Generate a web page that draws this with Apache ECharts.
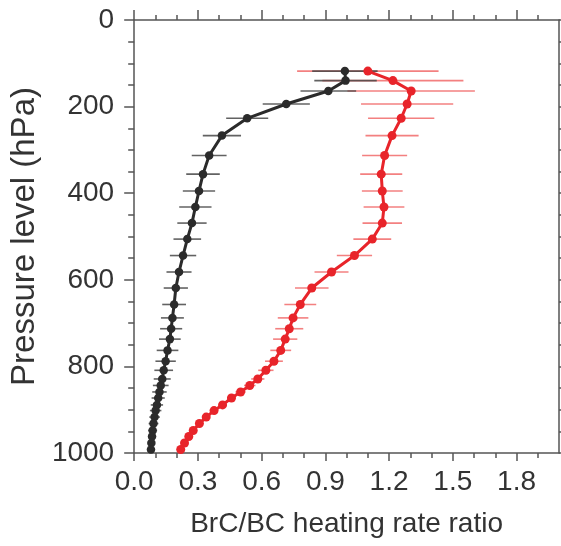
<!DOCTYPE html>
<html>
<head>
<meta charset="utf-8">
<script src="https://cdn.jsdelivr.net/npm/echarts@6/dist/echarts.min.js"></script>
<style>
html,body{margin:0;padding:0;background:#fff;}
#chart{width:561px;height:546px;}
</style>
</head>
<body>
<div id="chart"></div>
<script>
// Pressure levels (hPa)
var pressure = [118, 140, 164, 194, 227, 267, 313, 356, 395, 432, 469, 506, 544, 582, 619, 657, 688, 713, 737, 763, 788, 809, 829, 844, 859, 873, 889, 902, 917, 932, 948, 962, 977, 992];
// Black series: ratio and error (half-width)
var blackRatio = [0.992, 0.995, 0.914, 0.716, 0.532, 0.413, 0.353, 0.324, 0.305, 0.288, 0.272, 0.250, 0.230, 0.211, 0.196, 0.188, 0.180, 0.174, 0.168, 0.157, 0.148, 0.139, 0.132, 0.125, 0.119, 0.113, 0.107, 0.101, 0.096, 0.091, 0.087, 0.084, 0.081, 0.079];
var blackErr = [0.154, 0.147, 0.131, 0.111, 0.099, 0.090, 0.082, 0.079, 0.076, 0.076, 0.069, 0.065, 0.062, 0.059, 0.057, 0.056, 0.054, 0.052, 0.051, 0.051, 0.048, 0.044, 0.040, 0.037, 0.034, 0.031, 0.029, 0.027, 0.025, 0.023, 0.021, 0.019, 0.017, 0.015];
// Red series: ratio and error (half-width)
var redRatio = [1.100, 1.218, 1.304, 1.285, 1.257, 1.214, 1.179, 1.163, 1.168, 1.176, 1.168, 1.121, 1.037, 0.929, 0.836, 0.782, 0.748, 0.730, 0.711, 0.690, 0.658, 0.620, 0.582, 0.544, 0.501, 0.458, 0.416, 0.376, 0.339, 0.307, 0.278, 0.257, 0.237, 0.219];
var redErr = [0.333, 0.332, 0.300, 0.217, 0.156, 0.125, 0.106, 0.099, 0.096, 0.096, 0.093, 0.089, 0.083, 0.080, 0.079, 0.075, 0.072, 0.066, 0.057, 0.049, 0.042, 0.036, 0.031, 0.027, 0.024, 0.021, 0.019, 0.017, 0.015, 0.013, 0.012, 0.011, 0.010, 0.010];
// Axis ticks
var xMajorTicks = [0.0, 0.3, 0.6, 0.9, 1.2, 1.5, 1.8];
var xMinorTicks = [0.1, 0.2, 0.4, 0.5, 0.7, 0.8, 1.0, 1.1, 1.3, 1.4, 1.6, 1.7, 1.9];
var yTicks = [0, 200, 400, 600, 800, 1000];

var xTitle = 'BrC/BC heating rate ratio';
var yTitle = 'Pressure level (hPa)';

var FONT = 'Liberation Sans, Arial, Helvetica, sans-serif';
var AXC = '#555555';

function lineData(xs){ return xs.map(function(v,i){ return [v, pressure[i]]; }); }
function errData(xs, es){ return xs.map(function(v,i){ return [v, pressure[i], es[i]]; }); }

function errRender(color){
  return function(params, api){
    var x = api.value(0), p = api.value(1), e = api.value(2);
    var a = api.coord([x - e, p]);
    var b = api.coord([x + e, p]);
    return {
      type: 'line',
      shape: {x1: a[0], y1: a[1], x2: b[0], y2: b[1]},
      style: {stroke: color, lineWidth: 1.6}
    };
  };
}

var chart = echarts.init(document.getElementById('chart'), null, {renderer: 'canvas'});

function xAx(pos, ticks, len, showLine, showLabel){
  return {
    type: 'value', position: pos, min: 0, max: 2.0, interval: 0.1,
    axisLine: {show: showLine, onZero: false, lineStyle: {color: AXC, width: 1.5}},
    axisTick: {show: true, inside: false, length: len, customValues: ticks, lineStyle: {color: AXC, width: 1.5}},
    axisLabel: showLabel ? {show: true, customValues: xMajorTicks, formatter: function(v){ return Number(v).toFixed(1); }, fontSize: 28, color: '#333', fontFamily: FONT, margin: 15} : {show: false},
    splitLine: {show: false},
    name: showLabel ? xTitle : '',
    nameLocation: 'middle', nameGap: 57,
    nameTextStyle: {fontSize: 28, color: '#333', fontFamily: FONT}
  };
}
function yAx(pos, showLabel){
  return {
    type: 'value', position: pos, inverse: true, min: 0, max: 1000, interval: 200,
    axisLine: {show: true, onZero: false, lineStyle: {color: AXC, width: 1.5}},
    axisTick: {show: true, inside: false, length: 10, lineStyle: {color: AXC, width: 1.5}},
    minorTick: {show: true, splitNumber: 4, length: 6, lineStyle: {color: AXC, width: 1.5}},
    axisLabel: showLabel ? {show: true, customValues: yTicks, formatter: function(v){ return String(v); }, fontSize: 28, color: '#333', fontFamily: FONT, margin: 20} : {show: false},
    splitLine: {show: false},
    minorSplitLine: {show: false},
    name: showLabel ? yTitle : '',
    nameLocation: 'middle', nameGap: 80,
    nameTextStyle: {fontSize: 33, color: '#333', fontFamily: FONT}
  };
}

var option = {
  backgroundColor: '#ffffff',
  animation: false,
  grid: {left: 128, top: 20, width: 431, height: 433, containLabel: false},
  xAxis: [
    xAx('bottom', xMajorTicks, 8, true, true),
    xAx('bottom', xMinorTicks, 5, false, false),
    xAx('top', xMajorTicks, 10, true, false),
    xAx('top', xMinorTicks, 5, false, false)
  ],
  yAxis: [
    yAx('left', true),
    yAx('right', false)
  ],
  series: [
    {type: 'custom', xAxisIndex: 0, yAxisIndex: 0, renderItem: errRender('rgba(236,60,60,0.65)'), data: errData(redRatio, redErr), z: 1},
    {type: 'custom', xAxisIndex: 0, yAxisIndex: 0, renderItem: errRender('rgba(70,70,70,0.85)'), data: errData(blackRatio, blackErr), z: 2},
    {type: 'line', xAxisIndex: 0, yAxisIndex: 0, data: lineData(redRatio), symbol: 'circle', symbolSize: 9,
     lineStyle: {color: '#e8242a', width: 3}, itemStyle: {color: '#e8242a'}, z: 3},
    {type: 'line', xAxisIndex: 0, yAxisIndex: 0, data: lineData(blackRatio), symbol: 'circle', symbolSize: 8.5,
     lineStyle: {color: '#2b2b2b', width: 3}, itemStyle: {color: '#2b2b2b'}, z: 4}
  ]
};
chart.setOption(option);
</script>
</body>
</html>
